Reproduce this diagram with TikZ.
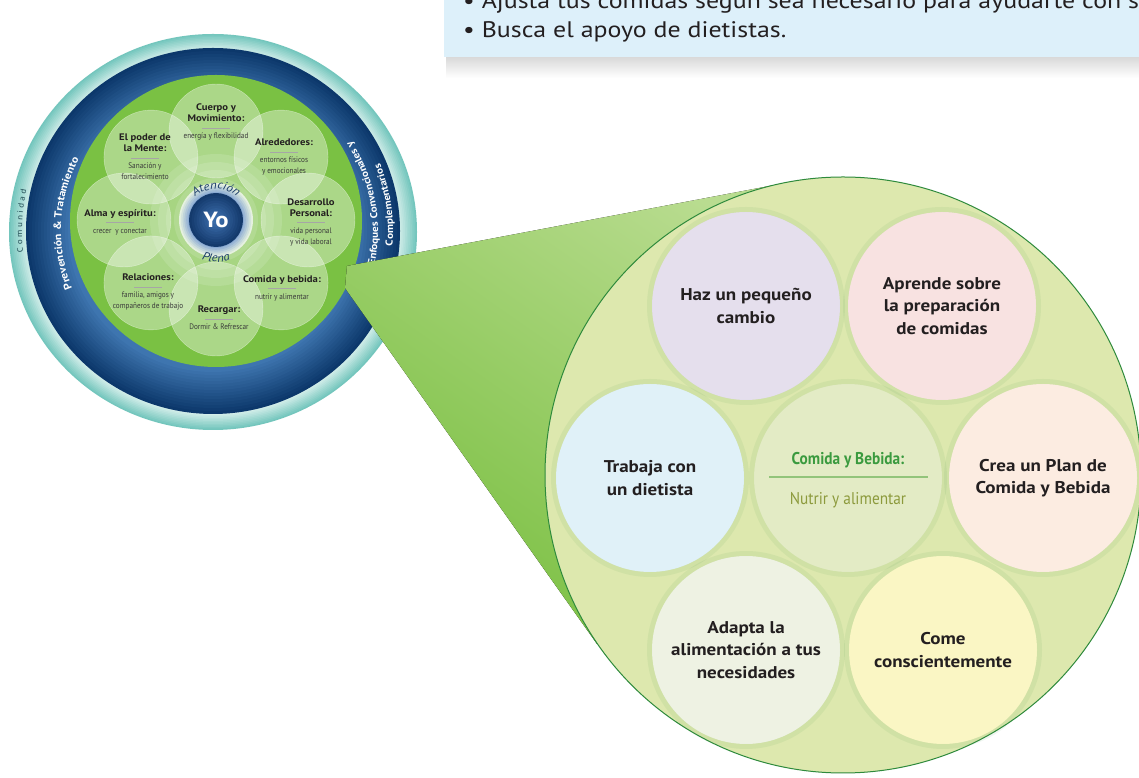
\documentclass[tikz,border=0pt]{standalone}
\usepackage{fontspec}
\setmainfont[FakeStretch=1.12]{PT Sans}
\newfontfamily\narrowfont[FakeStretch=0.9]{PT Sans}
\newfontfamily\boxfont[FakeStretch=1.15]{PT Sans}
\usetikzlibrary{decorations.text}

\definecolor{ink}{HTML}{231F20}
\definecolor{subgray}{HTML}{3A3A3A}
\definecolor{boxblue}{HTML}{DDF0FA}
\definecolor{tealin}{HTML}{D3EEEA}
\definecolor{tealout}{HTML}{74C6BD}
\definecolor{navyin}{HTML}{3F76B0}
\definecolor{navyout}{HTML}{0C386B}
\definecolor{wheelgreen}{HTML}{7AC143}
\definecolor{yolight}{HTML}{3A6CAA}
\definecolor{yodark}{HTML}{143A6C}
\definecolor{haloin}{HTML}{8AAAD3}
\definecolor{haloout}{HTML}{E6F1E0}
\definecolor{arcnavy}{HTML}{1C3E6B}
\definecolor{commtext}{HTML}{1F4A52}
\definecolor{conegreen}{HTML}{79BF40}
\definecolor{conelight}{HTML}{B9DC90}
\definecolor{bigfill}{HTML}{DDE8AE}
\definecolor{bigline}{HTML}{2E8A3C}
\definecolor{lavender}{HTML}{E5DFED}
\definecolor{blush}{HTML}{F8E2E1}
\definecolor{skyblue}{HTML}{E0F1F8}
\definecolor{sage}{HTML}{E3EBC5}
\definecolor{peach}{HTML}{FCECE1}
\definecolor{mist}{HTML}{EEF2E3}
\definecolor{butter}{HTML}{FAF6C4}
\definecolor{titlegreen}{HTML}{3A9A3E}
\definecolor{olive}{HTML}{8C9A3C}
\definecolor{rulegreen}{HTML}{92C47A}

\newcommand{\petalrule}{\textcolor{gray!70}{\rule[2.5pt]{28pt}{0.5pt}}}
\newcommand{\petalsub}[1]{{\mdseries\narrowfont\fontsize{8}{10}\selectfont\color{subgray}#1}}

\begin{document}
\begin{tikzpicture}[x=1pt, y=1pt,
  petaltxt/.style={align=center, text=ink, inner sep=0pt, font=\bfseries\fontsize{9.5}{11}\selectfont},
  bubble/.style={circle, fill=#1, minimum size=188pt, inner sep=0pt, align=center, text=ink, font=\bfseries\fontsize{17}{22.5}\selectfont},
  bubbleglow/.style={draw=bigline, draw opacity=0.07, line width=5pt},
  tiptxt/.style={anchor=base west, inner sep=0pt, text=ink, font=\boxfont\fontsize{22.5}{27}\selectfont}]
\useasboundingbox (0,0) rectangle (1139,778);
\clip (0,0) rectangle (1139,778);
\fill[white] (0,0) rectangle (1139,778);

\fill[top color=black!15, bottom color=white] (446,700) rectangle (1139,721);
\fill[boxblue] (444,721) rectangle (1139,778);
\node[tiptxt] (tip1) at (463,769) {• Ajusta tus comidas según sea necesario para ayudarte con s};
\node[tiptxt] (tip2) at (463,740) {• Busca el apoyo de dietistas.};

\coordinate (hub) at (213,547);
\coordinate (yo) at (216,558);
\foreach \i in {0,...,10} {
  \pgfmathtruncatemacro\p{10*\i}
  \fill[tealin!\p!tealout] (213,546) ellipse [x radius={204-1.7*\i}, y radius={198-1.5*\i}];
}
\foreach \i in {0,...,14} {
  \pgfmathtruncatemacro\p{7*\i}
  \fill[navyin!\p!navyout] (hub) ellipse [x radius={187-3*\i}, y radius={183-3*\i}];
}
\fill[wheelgreen] (216,557) circle (146);

\foreach \a in {0,45,...,315}
  \fill[white, fill opacity=0.37] (yo) ++({92*cos(\a)},{89*sin(\a)}) circle (47);
\foreach \a in {0,45,...,315}
  \draw[white, draw opacity=0.45, line width=0.4pt] (yo) ++({92*cos(\a)},{89*sin(\a)}) circle (47);
\foreach \r in {66,58,...,34}
  \fill[white, fill opacity=0.13] (yo) circle (\r);
\foreach \i in {0,...,5} {
  \pgfmathtruncatemacro\p{20*\i}
  \fill[haloin!\p!haloout] (yo) circle ({37-1.8*\i});
}
\foreach \i in {0,...,9} {
  \pgfmathtruncatemacro\p{11*\i}
  \fill[yolight!\p!yodark] (yo) circle ({27-2.5*\i});
}
\node[text=white, font=\bfseries\fontsize{22}{24}\selectfont] (me) at (yo) {Yo};

\path[decorate, decoration={text along path, text align=center, text color=arcnavy,
  text={|\itshape\fontsize{11.5}{13}\selectfont|Atención}}]
  (yo) ++(160:31) arc[start angle=160, end angle=20, radius=31];
\path[decorate, decoration={text along path, text align=center, text color=arcnavy,
  text={|\itshape\fontsize{11.5}{13}\selectfont|Plena}}]
  (yo) ++(205:42) arc[start angle=205, end angle=335, radius=42];

\node[petaltxt] (cuerpo) at (216,656) {Cuerpo y\\Movimiento:\\[-2pt]\petalrule\\[-3pt]\petalsub{energía y flexibilidad}};
\node[petaltxt] (mente) at (145,621) {El poder de\\la Mente:\\[-2pt]\petalrule\\[-3pt]\petalsub{Sanación y}\\\petalsub{fortalecimiento}};
\node[petaltxt] (alrededores) at (284,621) {Alrededores:\\[-2pt]\petalrule\\[-3pt]\petalsub{entornos físicos}\\\petalsub{y emocionales}};
\node[petaltxt] (desarrollo) at (311,556) {Desarrollo\\Personal:\\[-2pt]\petalrule\\[-3pt]\petalsub{vida personal}\\\petalsub{y vida laboral}};
\node[petaltxt] (alma) at (120,556) {Alma y espíritu:\\[-2pt]\petalrule\\[-3pt]\petalsub{crecer~ y conectar}};
\node[petaltxt] (relaciones) at (148,486) {Relaciones:\\[-2pt]\petalrule\\[-3pt]\petalsub{familia, amigos y}\\\petalsub{compañeros de trabajo}};
\node[petaltxt] (comida) at (282,490) {Comida y bebida:\\[-2pt]\petalrule\\[-3pt]\petalsub{nutrir y alimentar}};
\node[petaltxt] (recargar) at (219,460) {Recargar:\\[-2pt]\petalrule\\[-3pt]\petalsub{Dormir \& Refrescar}};

\path[decorate, decoration={text along path, text align=center, text color=white,
  text={|\bfseries\fontsize{10.5}{12}\selectfont|Prevención {\&} Tratamiento}}]
  (hub) ++(214:152) arc[start angle=214, end angle=140, radius=152];
\path[decorate, decoration={text along path, text align=center, text color=commtext,
  text={|\fontsize{8}{9}\selectfont|C o m u n i d a d}}]
  (hub) ++(202:191) arc[start angle=202, end angle=152, radius=191];
\path[decorate, decoration={text along path, text align=right, text color=white,
  text={|\bfseries\fontsize{10}{12}\selectfont|Enfoques Convencionales y}}]
  (hub) ++(-45:165) arc[start angle=-45, end angle=33, radius=165];
\path[decorate, decoration={text along path, text align=right, text color=white,
  text={|\bfseries\fontsize{10}{12}\selectfont|Complementarios}}]
  (hub) ++(-45:180) arc[start angle=-45, end angle=22, radius=180];

\fill[top color=conelight, bottom color=conegreen, shading angle=-35]
  (347,512) -- (780,594) -- (843,303) -- (597,134) -- (345,490) -- cycle;

\node[circle, minimum size=596pt, inner sep=0pt, fill=bigfill, draw=bigline, line width=1pt] (lens) at (843,303) {};

\node[bubble=lavender] (haz) at (746,472) {Haz un pequeño\\cambio};
\node[bubble=blush] (aprende) at (942,472) {Aprende sobre\\la preparación\\de comidas};
\node[bubble=skyblue] (trabaja) at (650,300) {Trabaja con\\un dietista};
\node[bubble=sage] (centro) at (848,300) {};
\node[bubble=peach] (crea) at (1043,300) {Crea un Plan de\\Comida y Bebida};
\node[bubble=mist] (adapta) at (746,128) {Adapta la\\alimentación a tus\\necesidades};
\node[bubble=butter] (come) at (943,128) {Come\\conscientemente};
\foreach \b in {haz,aprende,trabaja,centro,crea,adapta,come}
  \draw[bubbleglow] (\b) circle (96.5);

\node[text=titlegreen, font=\bfseries\narrowfont\fontsize{17}{20}\selectfont] (centro-t) at (848,318) {Comida y Bebida:};
\draw[rulegreen, line width=1.3pt] (769,301) -- (928,301);
\node[text=olive, font=\narrowfont\fontsize{17}{20}\selectfont] (centro-s) at (848,278) {Nutrir y alimentar};
\end{tikzpicture}
\end{document}
